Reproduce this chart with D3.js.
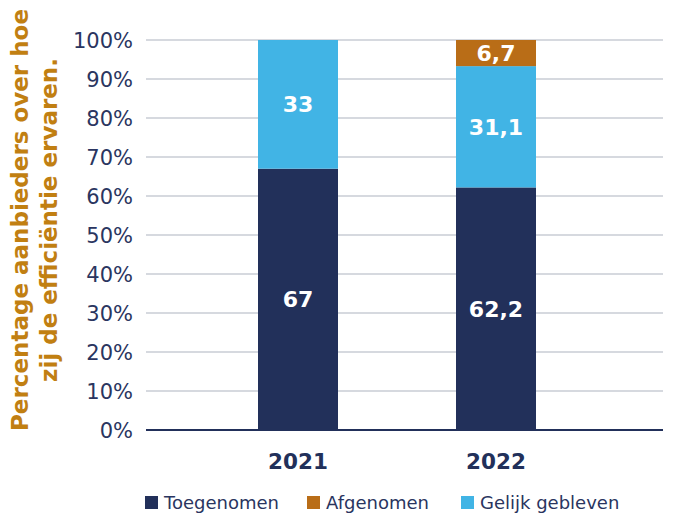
<!DOCTYPE html>
<html>
<head>
<meta charset="utf-8">
<script src="https://cdn.jsdelivr.net/npm/d3@7"></script>
<style>
  html, body { margin: 0; padding: 0; background: #fff; }
  svg { display: block; }
</style>
</head>
<body>
<svg id="chart" width="678" height="514"></svg>
<script>
const categories = ["2021", "2022"];
const seriesNames = ["Toegenomen", "Afgenomen", "Gelijk gebleven"];
const toegenomen = [67, 62.2];
const afgenomen = [0, 6.7];
const gelijk = [33, 31.1];
const yTicks = [0, 10, 20, 30, 40, 50, 60, 70, 80, 90, 100];
const titleLines = ["Percentage aanbieders over hoe", "zij de efficiëntie ervaren."];

const colors = { "Toegenomen": "#22305a", "Afgenomen": "#b96d17", "Gelijk gebleven": "#41b4e5" };
const navy = "#22305a";
const font = "'DejaVu Sans', sans-serif";

const rows = categories.map((c, i) => ({
  cat: c, "Toegenomen": toegenomen[i], "Afgenomen": afgenomen[i], "Gelijk gebleven": gelijk[i]
}));
const stackOrder = ["Toegenomen", "Gelijk gebleven", "Afgenomen"];
const stacked = d3.stack().keys(stackOrder)(rows);

const svg = d3.select("#chart");
const y = d3.scaleLinear().domain([0, 100]).range([430, 40]);
const x = d3.scaleBand().domain(categories).range([199, 595]).paddingInner(0.596).paddingOuter(0.298);
const gridX0 = 146, gridX1 = 663;

// gridlines
svg.append("g").selectAll("line").data(yTicks.filter(t => t > 0)).join("line")
  .attr("x1", gridX0).attr("x2", gridX1)
  .attr("y1", d => y(d)).attr("y2", d => y(d))
  .attr("stroke", "#c9ccd4").attr("stroke-width", 1.6);

// y axis tick labels
const yAxis = d3.axisLeft(y).tickValues(yTicks).tickSize(0).tickPadding(0).tickFormat(d => d + "%");
const ya = svg.append("g").attr("transform", "translate(133,0)").call(yAxis);
ya.select(".domain").remove();
ya.selectAll("text").attr("font-family", font).attr("font-size", 21)
  .attr("fill", "#2a3560").attr("dy", "0.36em");

// bars
svg.append("g").selectAll("g").data(stacked).join("g")
  .attr("fill", d => colors[d.key])
  .selectAll("rect").data(d => d.filter(p => p[1] - p[0] > 0)).join("rect")
  .attr("x", d => x(d.data.cat))
  .attr("width", x.bandwidth())
  .attr("y", d => y(d[1]))
  .attr("height", d => y(d[0]) - y(d[1]));

// value labels
const fmt = v => String(v).replace(".", ",");
svg.append("g").selectAll("g").data(stacked).join("g")
  .selectAll("text").data(d => d.filter(p => p[1] - p[0] > 0).map(p => ({ p, key: d.key }))).join("text")
  .attr("x", d => x(d.p.data.cat) + x.bandwidth() / 2)
  .attr("y", d => y((d.p[0] + d.p[1]) / 2))
  .attr("dy", "0.36em")
  .attr("text-anchor", "middle")
  .attr("font-family", font).attr("font-weight", "bold").attr("font-size", 22)
  .attr("fill", "#fff")
  .text(d => fmt(d.p.data[d.key]));

// baseline axis
svg.append("line").attr("x1", gridX0).attr("x2", gridX1)
  .attr("y1", y(0)).attr("y2", y(0)).attr("stroke", navy).attr("stroke-width", 2.2);

// x axis labels
const xAxis = d3.axisBottom(x).tickSize(0).tickPadding(0);
const xa = svg.append("g").attr("transform", "translate(0,469)").call(xAxis);
xa.select(".domain").remove();
xa.selectAll("text").attr("font-family", font).attr("font-weight", "bold").attr("font-size", 21.5)
  .attr("fill", navy).attr("dy", 0);

// y title
const tg = svg.append("g").attr("transform", "translate(0,220) rotate(-90)");
tg.selectAll("text").data(titleLines).join("text")
  .attr("x", 0).attr("y", (d, i) => 28 + i * 29)
  .attr("text-anchor", "middle")
  .attr("font-family", font).attr("font-weight", "bold").attr("font-size", 23)
  .attr("fill", "#c17f12")
  .text(d => d);

// legend
const legendX = [145, 307, 461];
const lg = svg.append("g").selectAll("g").data(seriesNames).join("g")
  .attr("transform", (d, i) => `translate(${legendX[i]},496)`);
lg.append("rect").attr("width", 13).attr("height", 13).attr("fill", d => colors[d]);
lg.append("text").attr("x", 19).attr("y", 13)
  .attr("font-family", font).attr("font-size", 18).attr("fill", "#2a3560")
  .text(d => d);
</script>
</body>
</html>
